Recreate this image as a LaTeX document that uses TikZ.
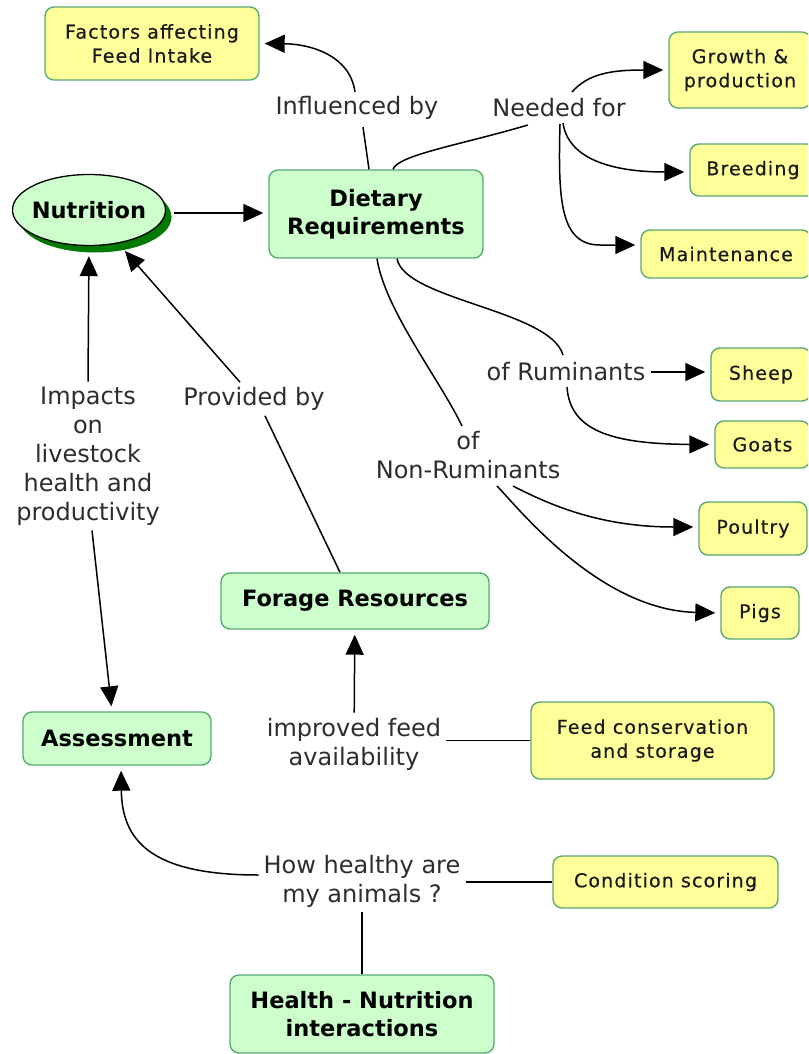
\documentclass[tikz,border=0pt]{standalone}
\usepackage{fontspec}
\setmainfont{DejaVu Sans}
\newfontfamily\leaffont[LetterSpace=6,FakeBold=0.4]{DejaVu Sans}
\usetikzlibrary{arrows.meta,shapes.geometric,shadows}

\definecolor{mintfill}{RGB}{204,255,204}
\definecolor{lemonfill}{RGB}{255,255,153}
\definecolor{boxrim}{RGB}{90,170,115}
\definecolor{shadowgreen}{RGB}{0,122,0}
\definecolor{linkgray}{RGB}{45,45,45}

\begin{document}
\begin{tikzpicture}[x=1pt,y=-1pt,
  conceptbox/.style={draw=boxrim, line width=1.4pt, rounded corners=9pt, align=center, inner sep=0pt},
  mainbox/.style={conceptbox, fill=mintfill, font=\fontsize{22.5}{28}\selectfont\bfseries},
  leafbox/.style={conceptbox, fill=lemonfill, text=black!90, font=\leaffont\fontsize{19}{24}\selectfont},
  linklabel/.style={align=center, inner sep=5pt, text=linkgray, font=\fontsize{24}{29}\selectfont},
  wire/.style={line width=1.5pt, black},
  arrowline/.style={wire, -{Triangle[length=20pt,width=18pt]}, shorten >=5pt},
]
\useasboundingbox (0,0) rectangle (808,1054);
\clip (0,0) rectangle (808,1054);
\fill[white] (0,0) rectangle (808,1054);

% concepts
\node[leafbox, minimum width=214pt, minimum height=73pt] (factors) at (152,43.5) {Factors affecting\\Feed Intake};
\node[ellipse, draw=black, line width=1.3pt, fill=mintfill, minimum width=153pt, minimum height=71pt,
      inner sep=0pt, font=\fontsize{22.5}{28}\selectfont\bfseries,
      drop shadow={shadow xshift=6pt, shadow yshift=-7pt, fill=shadowgreen, opacity=1}] (nutrition) at (89,210) {\makebox[0pt][c]{Nutrition}};
\node[mainbox, minimum width=214pt, minimum height=88pt] (dietary) at (376,214) {Dietary\\Requirements};
\node[leafbox, minimum width=142pt, minimum height=76pt] (growth) at (740,70) {Growth \&\\production};
\node[leafbox, minimum width=126pt, minimum height=52pt] (breeding) at (753,170) {Breeding};
\node[leafbox, minimum width=170pt, minimum height=48pt] (maintenance) at (726,254) {Maintenance};
\node[leafbox, minimum width=100pt, minimum height=53pt] (sheep) at (761,374.5) {Sheep};
\node[leafbox, minimum width=95pt, minimum height=47pt] (goats) at (762.5,444.5) {Goats};
\node[leafbox, minimum width=108pt, minimum height=53pt] (poultry) at (753,528.5) {Poultry};
\node[leafbox, minimum width=78pt, minimum height=52pt] (pigs) at (760,613) {Pigs};
\node[mainbox, minimum width=268pt, minimum height=56pt] (forage) at (355,601) {Forage Resources};
\node[mainbox, minimum width=188pt, minimum height=53pt] (assessment) at (117,738.5) {Assessment};
\node[leafbox, minimum width=243pt, minimum height=77pt] (feedcons) at (652.5,740.5) {Feed conservation\\and storage};
\node[leafbox, minimum width=225pt, minimum height=52pt] (condition) at (665.5,882) {Condition scoring};
\node[mainbox, minimum width=264pt, minimum height=78pt] (health) at (362,1014) {Health - Nutrition\\interactions};

% linking phrases
\node[linklabel] (influenced) at (357,108) {Influenced by};
\node[linklabel] (needed) at (559,108) {Needed for};
\node[linklabel] (ofrum) at (566,372) {of Ruminants};
\node[linklabel] (ofnon) at (468,455) {of\\Non-Ruminants};
\node[linklabel] (impacts) at (88,456) {Impacts\\on\\livestock\\health and\\productivity};
\node[linklabel] (provided) at (254,399) {Provided by};
\node[linklabel] (improved) at (354,744) {improved feed\\availability};
\node[linklabel] (howhealthy) at (362,881) {How healthy are\\my animals ?};

% connections
\draw[arrowline, shorten <=8pt] ([yshift=-3pt]nutrition.east) -- ([yshift=-3pt]nutrition.east -| dietary.west);
\draw[wire] ([xshift=-7pt]dietary.north) -- ([shift={(6,19)}]influenced.center);
\draw[arrowline] ([shift={(-2,-16)}]influenced.center) .. controls (350,55) and (310,44) .. (factors.east);
\draw[wire] ([xshift=17pt]dietary.north) .. controls (398,155) and (460,145) .. ([shift={(-31,17)}]needed.center);
\draw[arrowline] ([shift={(13,-16)}]needed.center) .. controls (588,74) and (610,70) .. (growth.west);
\draw[arrowline] ([shift={(4,15)}]needed.center) .. controls (568,158) and (610,172) .. ([yshift=-2pt]breeding.west);
\draw[arrowline] ([shift={(1,16)}]needed.center) .. controls (558,200) and (560,245) .. (600,245) -- ([yshift=9pt]maintenance.west);
\draw[wire] ([xshift=21pt]dietary.south) .. controls (405,300) and (550,310) .. ([shift={(-3,-17)}]ofrum.center);
\draw[arrowline] (ofrum.east) -- (ofrum.east -| sheep.west);
\draw[arrowline] ([shift={(1,15)}]ofrum.center) .. controls (570,430) and (610,444) .. (goats.west);
\draw[wire] ([xshift=1pt]dietary.south) .. controls (385,310) and (440,380) .. ([shift={(-6,-29)}]ofnon.center);
\draw[arrowline] ([shift={(45,31)}]ofnon.center) .. controls (550,505) and (600,527) .. ([yshift=1.5pt]poultry.west);
\draw[arrowline] ([shift={(29,31)}]ofnon.center) .. controls (520,510) and (600,610) .. (pigs.west);
\draw[arrowline, shorten >=10pt] (impacts.north) -- (nutrition.south);
\draw[arrowline] ([xshift=4pt]impacts.south) -- ([xshift=-5pt]assessment.north);
\draw[wire] ([xshift=-15pt]forage.north) -- ([xshift=11pt]provided.south);
\draw[arrowline, shorten >=10pt] ([xshift=-14pt]provided.north) -- (nutrition);
\draw[arrowline] (improved) -- (forage);
\draw[wire] (feedcons.west) -- (feedcons.west -| improved.east);
\draw[arrowline] ([yshift=6pt]howhealthy.west) .. controls (150,875) and (122,840) .. ([xshift=4pt]assessment.south);
\draw[wire] (condition.west) -- (condition.west -| howhealthy.east);
\draw[wire] (health) -- (howhealthy);
\end{tikzpicture}
\end{document}
